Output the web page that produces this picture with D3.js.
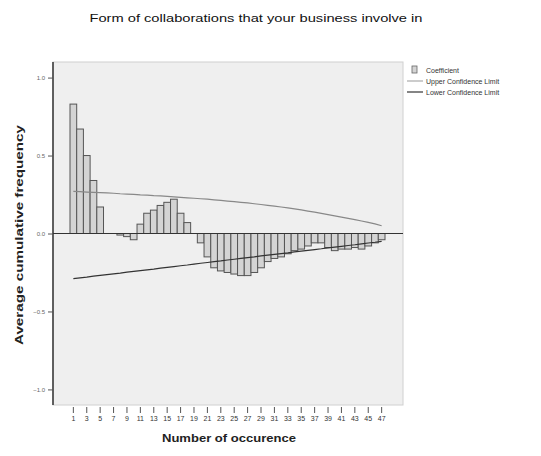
<!DOCTYPE html>
<html>
<head>
<meta charset="utf-8">
<script src="https://cdn.jsdelivr.net/npm/d3@7"></script>
<style>
  html, body { margin: 0; padding: 0; background: #fff; }
  svg text { font-family: "Liberation Sans", Arial, sans-serif; }
</style>
</head>
<body>
<svg id="chart" width="541" height="456"></svg>
<script>
// Lag numbers (x categories)
const lags = d3.range(1, 48);
// Autocorrelation coefficient per lag
const coefficients = [
  0.83, 0.67, 0.50, 0.34, 0.17, 0.00, 0.00, -0.01, -0.02, -0.04,
  0.06, 0.13, 0.15, 0.18, 0.20, 0.22, 0.13, 0.07, 0.00, -0.06,
  -0.15, -0.22, -0.24, -0.25, -0.26, -0.27, -0.27, -0.25, -0.22, -0.18,
  -0.16, -0.15, -0.13, -0.11, -0.10, -0.08, -0.06, -0.06, -0.09, -0.11,
  -0.10, -0.10, -0.09, -0.10, -0.08, -0.06, -0.04
];
// Confidence limits per lag
const upperLimit = [
  0.270, 0.268, 0.266, 0.264, 0.262, 0.260, 0.258, 0.255, 0.253, 0.251,
  0.248, 0.246, 0.243, 0.241, 0.238, 0.235, 0.232, 0.229, 0.226, 0.223,
  0.220, 0.216, 0.212, 0.208, 0.204, 0.200, 0.196, 0.191, 0.186, 0.181,
  0.176, 0.170, 0.164, 0.158, 0.151, 0.144, 0.137, 0.129, 0.121, 0.113,
  0.105, 0.097, 0.089, 0.080, 0.071, 0.062, 0.050
];
const lowerLimit = [
  -0.290, -0.285, -0.280, -0.274, -0.269, -0.264, -0.259, -0.254, -0.248, -0.243,
  -0.238, -0.233, -0.228, -0.222, -0.217, -0.212, -0.207, -0.202, -0.196, -0.191,
  -0.186, -0.181, -0.176, -0.170, -0.165, -0.160, -0.155, -0.150, -0.144, -0.139,
  -0.134, -0.129, -0.124, -0.118, -0.113, -0.108, -0.103, -0.098, -0.092, -0.087,
  -0.082, -0.077, -0.072, -0.066, -0.061, -0.056, -0.050
];
const yTicks = [1.0, 0.5, 0.0, -0.5, -1.0];
const xTickLags = lags.filter(d => d % 2 === 1);
const legendItems = ["Coefficient", "Upper Confidence Limit", "Lower Confidence Limit"];

const svg = d3.select("#chart");
const plot = { left: 53, right: 403, top: 62, bottom: 405 };

const x = d3.scaleBand().domain(lags).range([70, 385]).padding(0);
const y = d3.scaleLinear().domain([-1.1, 1.1]).range([plot.bottom, plot.top]);

// Title
svg.append("text")
  .attr("x", 256).attr("y", 22)
  .attr("text-anchor", "middle")
  .attr("font-size", 11).attr("fill", "#111")
  .attr("textLength", 333).attr("lengthAdjust", "spacingAndGlyphs")
  .text("Form of collaborations that your business involve in");

// Plot background
svg.append("rect")
  .attr("x", plot.left).attr("y", plot.top)
  .attr("width", plot.right - plot.left).attr("height", plot.bottom - plot.top)
  .attr("fill", "#efefef").attr("stroke", "#d0d0d0").attr("stroke-width", 1);

// Bars
svg.append("g").selectAll("rect")
  .data(lags)
  .join("rect")
  .attr("x", d => x(d))
  .attr("width", x.bandwidth())
  .attr("y", (d, i) => y(Math.max(0, coefficients[i])))
  .attr("height", (d, i) => Math.abs(y(coefficients[i]) - y(0)))
  .attr("fill", "#d4d4d4")
  .attr("stroke", "#555")
  .attr("stroke-width", 1);

// Confidence limit lines
const line = d3.line().x(d => x(d[0]) + x.bandwidth() / 2).y(d => y(d[1]));
svg.append("path")
  .attr("d", line(lags.map((l, i) => [l, upperLimit[i]])))
  .attr("fill", "none").attr("stroke", "#888").attr("stroke-width", 1.2);
svg.append("path")
  .attr("d", line(lags.map((l, i) => [l, lowerLimit[i]])))
  .attr("fill", "none").attr("stroke", "#333").attr("stroke-width", 1.2);

// Zero reference line
svg.append("line")
  .attr("x1", plot.left).attr("x2", plot.right)
  .attr("y1", y(0)).attr("y2", y(0))
  .attr("stroke", "#333").attr("stroke-width", 1);

// Y axis
const yAxis = svg.append("g")
  .attr("transform", `translate(${plot.left},0)`)
  .call(d3.axisLeft(y).tickValues(yTicks).tickSize(5).tickFormat(d3.format(".1f")));
yAxis.select(".domain").attr("stroke", "#333").attr("stroke-width", 1.5)
  .attr("d", `M0,${plot.top}V${plot.bottom}`);
yAxis.selectAll(".tick line").attr("stroke", "#555");
yAxis.selectAll(".tick text").attr("font-size", 6).attr("fill", "#666");

// X axis: ticks and labels at odd lags
const xAxis = svg.append("g")
  .attr("transform", `translate(0,${plot.bottom + 2})`)
  .call(d3.axisBottom(x).tickValues(xTickLags).tickSize(6));
xAxis.select(".domain").remove();
xAxis.selectAll(".tick line").attr("stroke", "#555");
xAxis.selectAll(".tick text").attr("font-size", 7).attr("fill", "#333");

// Axis titles
svg.append("text")
  .attr("x", 229).attr("y", 442)
  .attr("text-anchor", "middle")
  .attr("font-size", 10.5).attr("font-weight", "bold").attr("fill", "#222")
  .attr("textLength", 134).attr("lengthAdjust", "spacingAndGlyphs")
  .text("Number of occurence");

svg.append("text")
  .attr("transform", "translate(23,235) rotate(-90)")
  .attr("text-anchor", "middle")
  .attr("font-size", 10.5).attr("font-weight", "bold").attr("fill", "#222")
  .attr("textLength", 220).attr("lengthAdjust", "spacingAndGlyphs")
  .text("Average cumulative frequency");

// Legend
const legend = svg.append("g").attr("transform", "translate(407,70)");
legendItems.forEach((name, i) => {
  const g = legend.append("g").attr("transform", `translate(0,${i * 11})`);
  if (i === 0) {
    g.append("rect").attr("x", 5).attr("y", -4).attr("width", 5).attr("height", 7)
      .attr("fill", "#d4d4d4").attr("stroke", "#666").attr("stroke-width", 0.8);
  } else {
    g.append("line").attr("x1", 0).attr("x2", 16).attr("y1", 0).attr("y2", 0)
      .attr("stroke", i === 1 ? "#aaa" : "#333").attr("stroke-width", 1.2);
  }
  g.append("text").attr("x", 19).attr("y", 3)
    .attr("font-size", 7).attr("fill", "#333")
    .text(name);
});
</script>
</body>
</html>
